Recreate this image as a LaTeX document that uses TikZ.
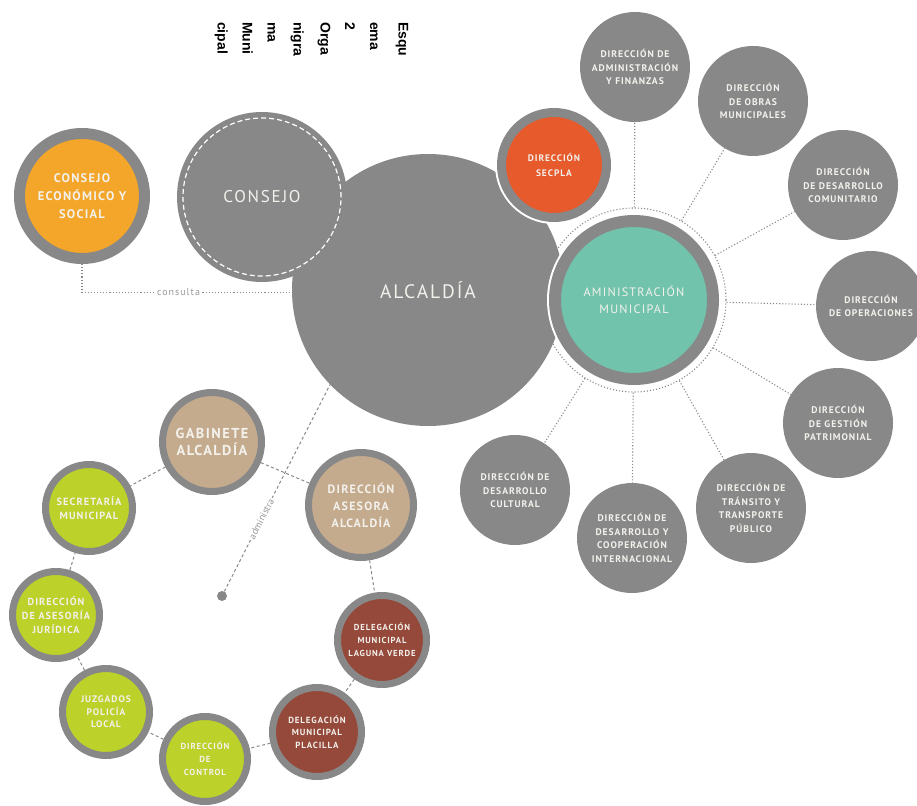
\documentclass[tikz,border=0pt]{standalone}
\usepackage{fontspec}
\setmainfont{PT Sans}
\newfontfamily\lbl[LetterSpace=10]{PT Sans}
\newfontfamily\ttlfont{Liberation Sans}
\definecolor{grayc}{HTML}{888888}
\definecolor{orangec}{HTML}{F4A62A}
\definecolor{secplac}{HTML}{E65A2C}
\definecolor{tealc}{HTML}{72C3AC}
\definecolor{tanc}{HTML}{C5AB8E}
\definecolor{limec}{HTML}{BDD12B}
\definecolor{brownc}{HTML}{95493A}
\definecolor{txtc}{HTML}{F3F1EC}
\definecolor{lgray}{HTML}{9A9A9A}
\begin{document}
\begin{tikzpicture}[x=1pt,y=-1pt,
  base/.style={circle, inner sep=0pt, align=center, text=txtc},
  sat/.style={base, fill=grayc, minimum size=110, font=\lbl\bfseries\fontsize{9.6}{13.5}\selectfont},
  bring/.style={base, draw=grayc, line width=7pt},
  halo/.style={preaction={draw=white, line width=#1}},
  dotl/.style={draw=grayc, line width=1.1pt, dash pattern=on 1.1pt off 2pt},
  dashl/.style={draw=grayc, line width=1pt, dash pattern=on 3pt off 2.5pt},
  ttl/.style={rotate=-90, anchor=base west, inner sep=0pt, font=\ttlfont\bfseries\fontsize{14}{16}\selectfont}
]
\useasboundingbox (0,0) rectangle (917,805);

% title
\node[ttl] (t1) at (398.5,22) {Esqu};
\node[ttl] (t2) at (370,22) {ema};
\node[ttl] (t3) at (345,22) {2};
\node[ttl] (t4) at (320.5,22) {Orga};
\node[ttl] (t5) at (293.5,22) {nigra};
\node[ttl] (t6) at (267.5,22) {ma};
\node[ttl] (t7) at (242.5,22) {Muni};
\node[ttl] (t8) at (217.5,22) {cipal};

% dotted ring around administracion
\node[circle, inner sep=0pt, minimum size=184, dotl] (amring) at (634,300) {};

% Alcaldia
\node[base, fill=grayc, minimum size=272, font=\lbl\fontsize{19.5}{24}\selectfont] (alc) at (428,290) {ALCALD\'IA};

% Consejo
\node[base, fill=grayc, minimum size=170, font=\lbl\fontsize{17}{22}\selectfont] (cons) at (262,197) {CONSEJO};
\node[circle, inner sep=0pt, minimum size=158, draw=white, line width=1.2pt, dash pattern=on 5pt off 3pt] (consring) at (cons.center) {};

% Consejo economico y social
\node[base, fill=orangec, draw=grayc, line width=11pt, minimum size=125, font=\lbl\bfseries\fontsize{12.5}{18}\selectfont] (ces) at (82,196) {CONSEJO\\ECON\'OMICO Y\\SOCIAL};

% Secpla and Administracion
\node[base, halo=13pt, fill=secplac, draw=grayc, line width=9pt, minimum size=105, font=\lbl\bfseries\fontsize{9.4}{14.5}\selectfont] (secpla) at (554,165) {DIRECCI\'ON\\SECPLA};
\node[base, halo=16pt, fill=tealc, draw=grayc, line width=12pt, minimum size=158, font=\lbl\fontsize{12.2}{17}\selectfont] (adm) at (634,300) {AMINISTRACI\'ON\\MUNICIPAL};

% satellites
\node[sat] (fin) at (635,67) {DIRECCI\'ON DE\\ADMINISTRACI\'ON\\Y FINANZAS};
\node[sat] (obras) at (753,101) {DIRECCI\'ON\\DE OBRAS\\MUNICIPALES};
\node[sat] (comun) at (843,185) {DIRECCI\'ON\\DE DESARROLLO\\COMUNITARIO};
\node[sat] (oper) at (871,306) {DIRECCI\'ON\\DE OPERACIONES};
\node[sat] (patr) at (838,423) {DIRECCI\'ON\\DE GESTI\'ON\\PATRIMONIAL};
\node[sat] (trans) at (751,508) {DIRECCI\'ON DE\\TR\'ANSITO Y\\TRANSPORTE\\P\'UBLICO};
\node[sat] (coop) at (632,538) {DIRECCI\'ON DE\\DESARROLLO Y\\COOPERACI\'ON\\INTERNACIONAL};
\node[sat] (cult) at (515,490) {DIRECCI\'ON DE\\DESARROLLO\\CULTURAL};

\foreach \s in {fin,obras,comun,oper,patr,trans,coop,cult}
  \draw[dotl] (amring) -- (\s);

% bottom cluster
\node[bring, fill=tanc, minimum size=99, font=\lbl\bfseries\fontsize{14.4}{17}\selectfont] (gab) at (212,442) {GABINETE\\ALCALD\'IA};
\node[bring, fill=tanc, minimum size=105, font=\lbl\bfseries\fontsize{12}{17}\selectfont] (ases) at (361,505) {DIRECCI\'ON\\ASESORA\\ALCALD\'IA};
\node[bring, fill=limec, minimum size=87, font=\lbl\bfseries\fontsize{10.4}{13.5}\selectfont] (secr) at (89,508) {SECRETAR\'IA\\MUNICIPAL};
\node[bring, fill=limec, minimum size=87, font=\lbl\bfseries\fontsize{10.2}{14}\selectfont] (jur) at (56,615) {DIRECCI\'ON\\DE ASESOR\'IA\\JUR\'IDICA};
\node[bring, fill=limec, minimum size=87, font=\lbl\bfseries\fontsize{9.5}{12.5}\selectfont] (juz) at (106,712) {JUZGADOS\\POLIC\'IA\\LOCAL};
\node[bring, fill=limec, minimum size=85, font=\lbl\bfseries\fontsize{8.8}{13}\selectfont] (ctrl) at (205,759) {DIRECCI\'ON\\DE\\CONTROL};
\node[bring, fill=brownc, minimum size=89, font=\lbl\bfseries\fontsize{8.9}{12.5}\selectfont] (plac) at (317,732) {DELEGACI\'ON\\MUNICIPAL\\PLACILLA};
\node[bring, fill=brownc, minimum size=89, font=\lbl\bfseries\fontsize{8.7}{13}\selectfont] (lag) at (382,640) {DELEGACI\'ON\\MUNICIPAL\\LAGUNA VERDE};

\draw[dashl] (gab) -- (secr);
\draw[dashl] (gab) -- (ases);
\draw[dashl] (ases) -- (lag);
\draw[dashl] (lag) -- (plac);
\draw[dashl] (plac) -- (ctrl);
\draw[dashl] (ctrl) -- (juz);
\draw[dashl] (juz) -- (jur);
\draw[dashl] (jur) -- (secr);

% administra
\node[circle, fill=grayc, minimum size=10, inner sep=0pt] (dot) at (222,596) {};
\draw[dashl] (dot) -- node[pos=0.35, sloped, fill=white, inner sep=1.5pt, text=lgray, font=\fontsize{9.8}{11}\selectfont] {administra} (alc.224);

% consulta
\draw[dotl] (ces.south) |- node[pos=0.73, fill=white, inner sep=2pt, text=lgray, font=\lbl\fontsize{10}{12}\selectfont] {consulta} (alc.181);

\end{tikzpicture}
\end{document}
